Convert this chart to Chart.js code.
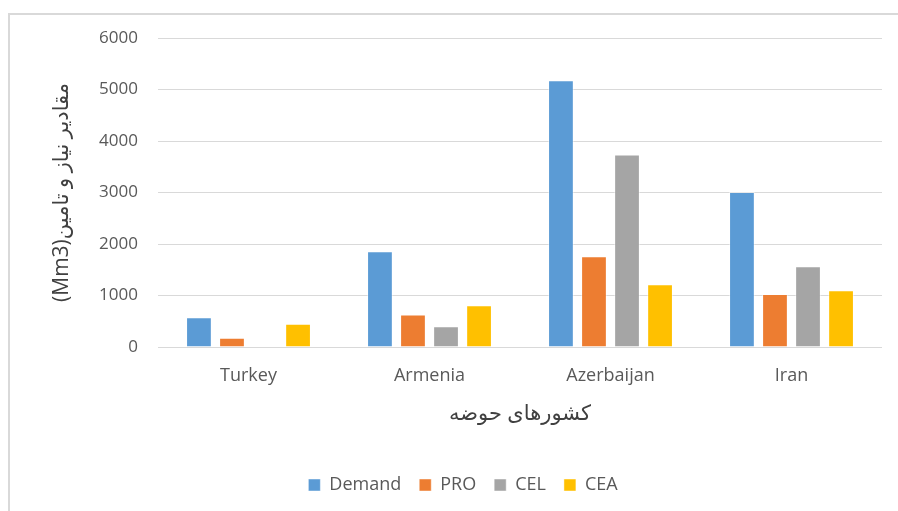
<!DOCTYPE html>
<html lang="fa">
<head>
<meta charset="UTF-8" />
<title>Chart</title>
<script src="https://cdn.jsdelivr.net/npm/chart.js@4.4.1/dist/chart.umd.min.js"></script>
<style>
    body { margin: 0; background: #fff; }
    .frame {
        position: absolute; left: 8px; top: 13px;
        width: 920px; height: 520px;
        border: 2px solid #d9d9d9;
    }
    canvas { position: absolute; left: 0; top: 0; }
</style>
</head>
<body>
<div class="frame"></div>
<canvas id="myChart" width="898" height="511"></canvas>
<script>
const countries = ["Turkey", "Armenia", "Azerbaijan", "Iran"];
const demand = [580, 1860, 5180, 3010];
const pro = [180, 630, 1760, 1030];
const cel = [0, 405, 3740, 1570];
const cea = [450, 810, 1220, 1100];
const yTicks = [0, 1000, 2000, 3000, 4000, 5000, 6000];

const latin = "'Open Sans', 'DejaVu Sans', sans-serif";

function ds(label, data, color) {
    return {
        label: label,
        data: data,
        backgroundColor: color,
        borderColor: "rgba(255,255,255,0.45)",
        borderWidth: 1,
        barPercentage: 0.78,
        categoryPercentage: 0.73,
    };
}

const ctx = document.getElementById("myChart").getContext("2d");
const myChart = new Chart(ctx, {
    type: "bar",
    data: {
        labels: countries,
        datasets: [
            ds("Demand", demand, "#5B9BD5"),
            ds("PRO", pro, "#ED7D31"),
            ds("CEL", cel, "#A5A5A5"),
            ds("CEA", cea, "#FFC000"),
        ],
    },
    options: {
        responsive: false,
        animation: false,
        layout: { padding: { left: 44, right: 16, top: 38, bottom: 7 } },
        plugins: {
            tooltip: { enabled: false },
            legend: {
                position: "bottom",
                labels: {
                    boxWidth: 12,
                    boxHeight: 12,
                    padding: 18,
                    color: "#595959",
                    font: { family: latin, size: 18 },
                },
            },
        },
        scales: {
            x: {
                grid: { display: false, drawTicks: false },
                border: { display: false },
                ticks: { color: "#595959", padding: 18, font: { family: latin, size: 18 } },
                title: {
                    display: true,
                    text: "کشورهای حوضه",
                    color: "#404040",
                    padding: { top: 0, bottom: 31 },
                    font: { family: latin, size: 21 },
                },
                afterFit: (scale) => { scale.height = 111; },
            },
            y: {
                min: 0,
                max: 6000,
                afterBuildTicks: (scale) => { scale.ticks = yTicks.map((v) => ({ value: v })); },
                grid: { color: "#d9d9d9", lineWidth: 1, drawTicks: false },
                border: { display: false },
                ticks: {
                    color: "#595959",
                    padding: 20,
                    font: { family: latin, size: 17 },
                    callback: (v) => String(v),
                },
                title: {
                    display: true,
                    text: "\u202Bمقادیر نیاز و تامین(Mm3)\u202C",
                    color: "#404040",
                    padding: { top: 5, bottom: 0 },
                    font: { family: latin, size: 21 },
                },
                afterFit: (scale) => { scale.width = 114; },
            },
        },
    },
});
</script>
</body>
</html>
